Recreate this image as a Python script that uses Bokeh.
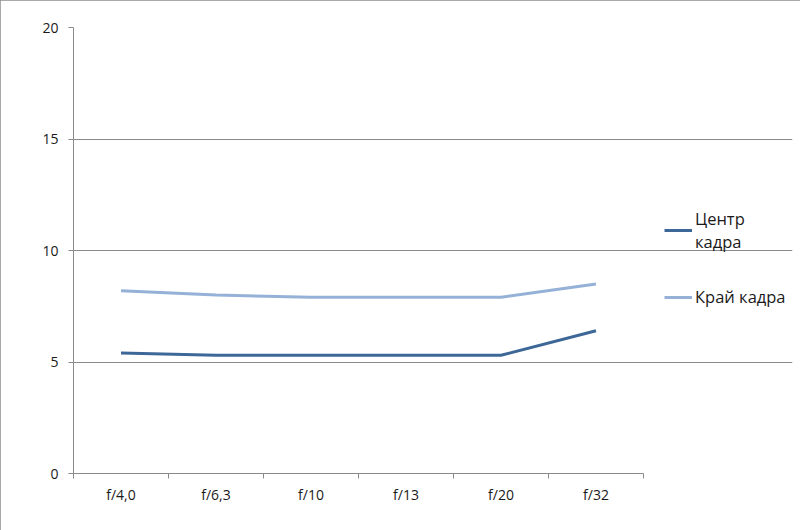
from bokeh.plotting import figure
from bokeh.models import FixedTicker, Legend, LegendItem, Range1d
from bokeh.embed import file_html
from bokeh.resources import INLINE

categories = ["f/4,0", "f/6,3", "f/10", "f/13", "f/20", "f/32"]
center_values = [5.4, 5.3, 5.3, 5.3, 5.3, 6.4]
edge_values = [8.2, 8.0, 7.9, 7.9, 7.9, 8.5]
series_names = ["Центр\nкадра", "Край кадра"]
y_ticks = [0, 5, 10, 15, 20]

FONT = "Open Sans"
GRAY = "#8a8a8a"
TEXT = "#1a1a1a"

n = len(categories)
x = [i + 0.5 for i in range(n)]

W, H = 800, 530
LEFT, RIGHT, TOP, BOTTOM = 73, 8, 27, 57
PLOT_W = 570  # pixel width of the category area
frame_w = W - LEFT - RIGHT
x_end = n * frame_w / PLOT_W

p = figure(width=W, height=H, output_backend="svg", toolbar_location=None,
           x_range=Range1d(0, x_end), y_range=Range1d(0, 20),
           min_border_left=LEFT, min_border_right=RIGHT,
           min_border_top=TOP, min_border_bottom=BOTTOM,
           styles={"outline": "1px solid #8c8c8c", "outline-offset": "-1px"})
p.outline_line_color = None
p.background_fill_color = "white"
p.border_fill_color = "white"

r1 = p.line(x, center_values, line_color="#3d6797", line_width=3)
r2 = p.line(x, edge_values, line_color="#95b1d8", line_width=3)

# x axis
xa = p.xaxis[0]
xa.bounds = (0, n)
xa.ticker = FixedTicker(ticks=x, minor_ticks=list(range(n + 1)))
xa.major_label_overrides = {xi: c for xi, c in zip(x, categories)}
xa.major_tick_out = 0
xa.major_tick_in = 0
xa.minor_tick_out = 5
xa.minor_tick_in = 0
xa.minor_tick_line_color = GRAY
xa.axis_line_color = GRAY
xa.major_label_standoff = 6
xa.major_label_text_font = FONT
xa.major_label_text_font_size = "14px"
xa.major_label_text_color = TEXT

# y axis
ya = p.yaxis[0]
ya.ticker = FixedTicker(ticks=y_ticks)
ya.major_tick_out = 5
ya.major_tick_in = 0
ya.minor_tick_out = 0
ya.minor_tick_in = 0
ya.major_tick_line_color = GRAY
ya.axis_line_color = GRAY
ya.major_label_standoff = 10
ya.major_label_text_font = FONT
ya.major_label_text_font_size = "14px"
ya.major_label_text_color = TEXT

p.xgrid.grid_line_color = None
p.ygrid.grid_line_color = GRAY
p.ygrid.ticker = FixedTicker(ticks=y_ticks)
p.ygrid.bounds = (0, n)

legend = Legend(items=[LegendItem(label=series_names[0], renderers=[r1]),
                       LegendItem(label=series_names[1], renderers=[r2])],
                location=(591, 165), padding=0, margin=0, spacing=32,
                glyph_width=28, label_standoff=3,
                label_text_font=FONT, label_text_font_size="16.5px",
                label_text_line_height=1.45,
                label_text_color=TEXT,
                border_line_color=None, background_fill_alpha=0)
p.add_layout(legend, "center")

open("out.html", "w").write(file_html(p, INLINE))
